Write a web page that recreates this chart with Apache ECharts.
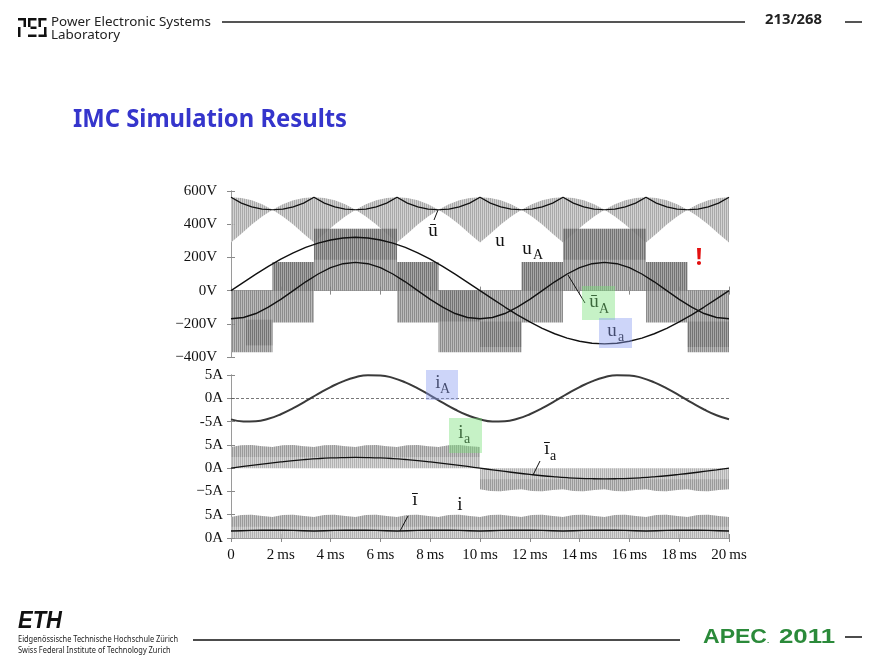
<!DOCTYPE html>
<html><head><meta charset="utf-8">
<script src="https://cdn.jsdelivr.net/npm/echarts@6.0.0/dist/echarts.min.js"></script>
<style>html,body{margin:0;padding:0;background:#fff}#c{width:882px;height:664px}</style>
</head><body><div id="c"></div>
<script>
// ---------- data ----------
const xTickLabels = ['0','2\u2009ms','4\u2009ms','6\u2009ms','8\u2009ms','10\u2009ms','12\u2009ms','14\u2009ms','16\u2009ms','18\u2009ms','20\u2009ms'];
const vTickLabels = ['\u2212400V','\u2212200V','0V','200V','400V','600V'];
const iTickLabels = ['0A','5A','\u22125A','0A','5A','-5A','0A','5A'];

// sample times (ms): fine grid (48 steps) and 0.5 ms grid
const tFine = Array.from({length:49},(_,k)=>k*20/48);
const tHalf = Array.from({length:41},(_,k)=>k*0.5);

// DC-link voltage: local average and envelope of the pulses (V)
const uBar = [562,527,504,491,487,491,504,527, 562,527,504,491,487,491,504,527, 562,527,504,491,487,491,504,527,
              562,527,504,491,487,491,504,527, 562,527,504,491,487,491,504,527, 562,527,504,491,487,491,504,527, 562];
const uHi  = [563,558,544,520,487,520,544,558, 563,558,544,520,487,520,544,558, 563,558,544,520,487,520,544,558,
              563,558,544,520,487,520,544,558, 563,558,544,520,487,520,544,558, 563,558,544,520,487,520,544,558, 563];
const uLo  = [290,343,398,447,487,447,398,343, 290,343,398,447,487,447,398,343, 290,343,398,447,487,447,398,343,
              290,343,398,447,487,447,398,343, 290,343,398,447,487,447,398,343, 290,343,398,447,487,447,398,343, 290];
// input phase voltage u_a (V), 0.5 ms steps
const uIn = [0,50,99,146,189,227,260,286,305,317,321,317,305,286,260,227,189,146,99,50,0,
             -50,-99,-146,-189,-227,-260,-286,-305,-317,-321,-317,-305,-286,-260,-227,-189,-146,-99,-50,0];
// output phase voltage local average (V)
const uOutAvg = [-170,-162,-138,-100,-53,0,53,100,138,162,170,162,138,100,53,0,-53,-100,-138,-162,-170,
                 -162,-138,-100,-53,0,53,100,138,162,170,162,138,100,53,0,-53,-100,-138,-162,-170];
// output phase voltage pulse blocks [t0, t1, low, high]
const uAblocks = [[0,1.667,-372,0],[1.667,3.333,-192,172],[3.333,6.667,0,372],[6.667,8.333,-192,172],
                  [8.333,11.667,-372,0],[11.667,13.333,-192,172],[13.333,16.667,0,372],[16.667,18.333,-192,172],[18.333,20,-372,0]];
const uAdense = [[0.6,1.667,-330,-175],[1.667,3.333,0,172],[3.333,6.667,186,372],[6.667,8.333,0,172],
                 [8.333,10,-186,0],[10,11.667,-340,-186],[11.667,13.333,0,172],[13.333,16.667,186,372],[16.667,18.333,0,172],[18.333,20,-340,-186]];
// output current i_A (A)
const iOut = [-4.52,-4.96,-4.91,-4.38,-3.42,-2.13,-0.63,0.94,2.41,3.64,4.52,4.96,4.91,4.38,3.42,2.13,0.63,-0.94,-2.41,-3.64,-4.52,
              -4.96,-4.91,-4.38,-3.42,-2.13,-0.63,0.94,2.41,3.64,4.52,4.96,4.91,4.38,3.42,2.13,0.63,-0.94,-2.41,-3.64,-4.52];
// input current local average (A)
const iInAvg = [0,0.36,0.71,1.04,1.35,1.63,1.86,2.05,2.19,2.27,2.3,2.27,2.19,2.05,1.86,1.63,1.35,1.04,0.71,0.36,0,
                -0.36,-0.71,-1.04,-1.35,-1.63,-1.86,-2.05,-2.19,-2.27,-2.3,-2.27,-2.19,-2.05,-1.86,-1.63,-1.35,-1.04,-0.71,-0.36,0];
// DC-link current pulse envelope and local average (A)
const iEnv = [4.52,4.92,4.98,4.70, 4.52,4.92,4.98,4.70, 4.52,4.92,4.98,4.70, 4.52,4.92,4.98,4.70, 4.52,4.92,4.98,4.70, 4.52,4.92,4.98,4.70,
              4.52,4.92,4.98,4.70, 4.52,4.92,4.98,4.70, 4.52,4.92,4.98,4.70, 4.52,4.92,4.98,4.70, 4.52,4.92,4.98,4.70, 4.52,4.92,4.98,4.70, 4.52];
const iBar = [1.5,1.56,1.62,1.66,1.68,1.66,1.62,1.56, 1.5,1.56,1.62,1.66,1.68,1.66,1.62,1.56, 1.5,1.56,1.62,1.66,1.68,1.66,1.62,1.56,
              1.5,1.56,1.62,1.66,1.68,1.66,1.62,1.56, 1.5,1.56,1.62,1.66,1.68,1.66,1.62,1.56, 1.5,1.56,1.62,1.66,1.68,1.66,1.62,1.56, 1.5];
const iDenseFrom = 2.4;   // lower edge of the denser part of the current pulses (A)
const iaSignChange = 24;  // index in tFine where the input current pulses change sign (10 ms)

// ---------- layout / style ----------
const OFF_IOUT = 30, OFF_IIN = 15, OFF_IDC = 0;   // stacking of the three current traces
const SERIF = '"Liberation Serif","DejaVu Serif",serif';
const SANS = '"Noto Sans","Liberation Sans",sans-serif';

function pat(c1, c2){
  const cv = document.createElement('canvas'); cv.width = 2; cv.height = 2;
  const g = cv.getContext('2d'); g.fillStyle = c1; g.fillRect(0,0,1,2); g.fillStyle = c2; g.fillRect(1,0,1,2);
  return {image: cv, repeat: 'repeat'};
}
const patLight = pat('rgba(160,160,160,0.9)','rgba(205,205,205,0.9)');
const patMid   = pat('rgba(120,120,120,0.85)','rgba(170,170,170,0.8)');
const patDark  = pat('rgba(60,60,60,0.3)','rgba(90,90,90,0.2)');
const patIl    = pat('rgba(165,165,165,0.85)','rgba(205,205,205,0.8)');
const patId    = pat('rgba(100,100,100,0.3)','rgba(130,130,130,0.2)');

const mctx = document.createElement('canvas').getContext('2d');
function fitScale(text, font, w){ mctx.font = font; return w / mctx.measureText(text).width; }

function zip(t, v, off){ return t.map((x,i)=>[x, v[i] + (off||0)]); }

function band(xi, yi, loFn, hiFn, k0, k1, fill, z){
  return {type:'custom', xAxisIndex:xi, yAxisIndex:yi, z, silent:true, clip:true, data:[[0,0]],
    renderItem:(p, api)=>{
      const pts = [];
      for (let k=k0;k<=k1;k++) pts.push(api.coord([tFine[k], hiFn(k)]));
      for (let k=k1;k>=k0;k--) pts.push(api.coord([tFine[k], loFn(k)]));
      return {type:'polygon', shape:{points:pts}, style:{fill, stroke:null}};
    }};
}
function blocks(xi, yi, data, fill, z){
  return {type:'custom', xAxisIndex:xi, yAxisIndex:yi, z, silent:true, clip:true, data,
    dimensions:['t0','t1','lo','hi'], encode:{x:[0,1], y:[2,3]},
    renderItem:(p, api)=>{
      const a = api.coord([api.value(0), api.value(3)]);
      const b = api.coord([api.value(1), api.value(2)]);
      return {type:'rect', shape:{x:a[0], y:a[1], width:b[0]-a[0], height:b[1]-a[1]}, style:{fill, stroke:null}};
    }};
}
function line(xi, yi, data, color, w, z){
  return {type:'line', xAxisIndex:xi, yAxisIndex:yi, data, showSymbol:false, smooth:false, z:z||5, silent:true,
    lineStyle:{color, width:w}, animation:false};
}

const axisBox = {lineStyle:{color:'#9a9a9a', width:1}};
const tickIn = {show:true, inside:true, length:4, lineStyle:{color:'#8a8a8a'}};
function xAx(grid, pos, labels){
  return {type:'value', gridIndex:grid, position:pos, min:0, max:20, interval:2, splitLine:{show:false},
    axisLine:axisBox, axisTick:tickIn,
    axisLabel: labels ? {show:true, margin:10, color:'#111', fontSize:15, fontFamily:SERIF,
      formatter:(v)=>xTickLabels[Math.round(v/2)]} : {show:false}};
}
function yAx(grid, pos, min, max, iv, labels, margin){
  return {type:'value', gridIndex:grid, position:pos, min, max, interval:iv, splitLine:{show:false},
    axisLine:{show:true, ...axisBox}, axisTick:tickIn,
    axisLabel: labels ? {show:true, margin, color:'#111', fontSize:15, fontFamily:SERIF,
      formatter:(v)=>labels[Math.round((v-min)/iv)]} : {show:false}};
}

function txt(x, y, text, size, opts){
  return Object.assign({type:'text', x, y, z:50, silent:true,
    style:{text, fontSize:size, fontFamily:SERIF, fill:'#111', align:'center', verticalAlign:'middle'}}, opts||{});
}
function seg(x1,y1,x2,y2,color,w){ return {type:'line', z:50, silent:true, shape:{x1,y1,x2,y2}, style:{stroke:color||'#111', lineWidth:w||1}}; }
function box(x,y,w,h,fill){ return {type:'rect', z:60, silent:true, shape:{x,y,width:w,height:h}, style:{fill}}; }
function r(x,y,w,h){ return {type:'rect', z:50, silent:true, shape:{x,y,width:w,height:h}, style:{fill:'#111'}}; }

const hdrScale = fitScale('Power Electronic Systems', '13px "Noto Sans"', 160);
const ttlScale = fitScale('IMC Simulation Results', 'bold 25px "Noto Sans"', 274);
const pgScale = fitScale('213/268', 'bold 15px "Noto Sans"', 57);
const ftScale = fitScale('Eidgenössische Technische Hochschule Zürich', '8.5px "Noto Sans"', 160);
const apScale = fitScale('APEC', 'bold 20px "Liberation Sans"', 64);
const yrScale = fitScale('2011', 'bold 20px "Liberation Sans"', 56);
const ethScale = fitScale('ETH', 'italic bold 23px "Liberation Sans"', 44);

function stxt(x, y, text, font, size, weight, color, sx, style){
  return {type:'text', x, y, scaleX:sx, z:50, silent:true,
    style:Object.assign({text, fontSize:size, fontFamily:font, fontWeight:weight, fill:color, align:'left', verticalAlign:'middle'}, style||{})};
}

const graphic = [
  // header logo
  r(18,18,8,2.5), r(23.5,18,2.5,9), r(18,27,2.5,10),
  r(28,18,8.5,2.5), r(28,18,2.5,9), r(30.5,26.5,6,2.5), r(28,34.5,8.5,2.5),
  r(38.5,18,8,2.5), r(38.5,18,2.5,9), r(44,27,2.5,10), r(38.5,34.5,8,2.5),
  stxt(51,22,'Power Electronic Systems','Noto Sans',13,'normal','#222',hdrScale),
  stxt(51,35,'Laboratory','Noto Sans',13,'normal','#222',hdrScale),
  seg(222,22,745,22,'#555',2),
  stxt(765,20,'213/268','Noto Sans',15,'bold','#222',pgScale),
  seg(845,22,862,22,'#555',2),
  stxt(73,120,'IMC Simulation Results','Noto Sans',25,'bold','#3535cc',ttlScale),
  // footer
  stxt(18,622,'ETH','Liberation Sans',23,'bold','#111',ethScale,{fontStyle:'italic'}),
  stxt(18,640,'Eidgenössische Technische Hochschule Zürich','Noto Sans',8.5,'normal','#222',ftScale),
  stxt(18,651,'Swiss Federal Institute of Technology Zurich','Noto Sans',8.5,'normal','#222',ftScale),
  seg(193,640,680,640,'#111',1.5),
  stxt(703,637,'APEC','Liberation Sans',20,'bold','#2b8a3a',apScale),
  stxt(767,641,'.','Liberation Sans',8,'bold','#2b8a3a',1),
  stxt(779,637,'2011','Liberation Sans',20,'bold','#2b8a3a',yrScale),
  seg(845,637,862,637,'#111',1.5),
  // voltage panel annotations
  txt(433,231,'\u016B',19), seg(434,220,438,210,'#111',1),
  txt(500,241,'u',19),
  txt(527,249,'u',19), txt(538,255,'A',14),
  txt(699,258,'!',23,{style:{text:'!', fontSize:23, fontWeight:'bold', fontFamily:SANS, fill:'#e31010', align:'center', verticalAlign:'middle'}}),
  seg(568,275,585,303,'#111',1),
  txt(594,302,'\u016B',19), txt(604,309,'A',14),
  box(582,286,33,34,'rgba(120,225,120,0.42)'),
  txt(612,331,'u',19), txt(621,337,'a',14),
  box(599,318,33,30,'rgba(135,155,240,0.42)'),
  // current panel annotations
  txt(438,383,'i',19), txt(445,389,'A',14),
  box(426,370,32,30,'rgba(135,155,240,0.42)'),
  txt(461,433,'i',19), txt(467,439,'a',14),
  box(449,418,33,35,'rgba(120,225,120,0.42)'),
  txt(547,449,'i\u0304',19), txt(553,456,'a',14), seg(540,461,533,475,'#111',1),
  txt(415,500,'i\u0304',19), seg(408,516,400,531,'#111',1),
  txt(460,505,'i',19)
];

const series = [
  band(0,0,(k)=>uLo[k],(k)=>uHi[k],0,48,patLight,1),
  blocks(0,0,uAblocks,patMid,2),
  blocks(0,0,uAdense,patDark,3),
  line(0,0,zip(tFine,uBar),'#111',1.2,6),
  line(0,0,zip(tHalf,uIn),'#111',1.4,6),
  line(0,0,zip(tHalf,uOutAvg),'#111',1.4,6),
  // currents
  band(2,2,(k)=>OFF_IDC,(k)=>OFF_IDC+iEnv[k],0,48,patIl,1),
  band(2,2,(k)=>OFF_IDC+iDenseFrom,(k)=>OFF_IDC+iEnv[k],0,48,patId,2),
  band(2,2,(k)=>OFF_IIN,(k)=>OFF_IIN+iEnv[k],0,iaSignChange,patIl,1),
  band(2,2,(k)=>OFF_IIN+iDenseFrom,(k)=>OFF_IIN+iEnv[k],0,iaSignChange,patId,2),
  band(2,2,(k)=>OFF_IIN-iEnv[k],(k)=>OFF_IIN,iaSignChange,48,patIl,1),
  band(2,2,(k)=>OFF_IIN-iEnv[k],(k)=>OFF_IIN-iDenseFrom,iaSignChange,48,patId,2),
  Object.assign(line(2,2,zip(tHalf,iOut,OFF_IOUT),'#3a3a3a',2,6),{smooth:true,
    markLine:{silent:true, symbol:'none', animation:false, label:{show:false},
      lineStyle:{type:[3,2], color:'#555', width:0.8}, data:[{yAxis:OFF_IOUT}]}}),
  Object.assign(line(2,2,zip(tHalf,iInAvg,OFF_IIN),'#111',1.3,6),{smooth:true}),
  line(2,2,zip(tFine,iBar,OFF_IDC),'#111',1.3,6)
];

const chart = echarts.init(document.getElementById('c'), null, {renderer:'canvas'});
chart.setOption({
  animation:false,
  backgroundColor:'#fff',
  grid:[{left:231, top:191, width:498, height:166},{left:231, top:375, width:498, height:163}],
  xAxis:[xAx(0,'bottom',false), xAx(0,'top',false), xAx(1,'bottom',true), xAx(1,'top',false)],
  yAxis:[yAx(0,'left',-400,600,200,vTickLabels,14), yAx(0,'right',-400,600,200,null),
         yAx(1,'left',0,35,5,iTickLabels,8), yAx(1,'right',0,35,5,null)],
  series,
  graphic
});
</script></body></html>
